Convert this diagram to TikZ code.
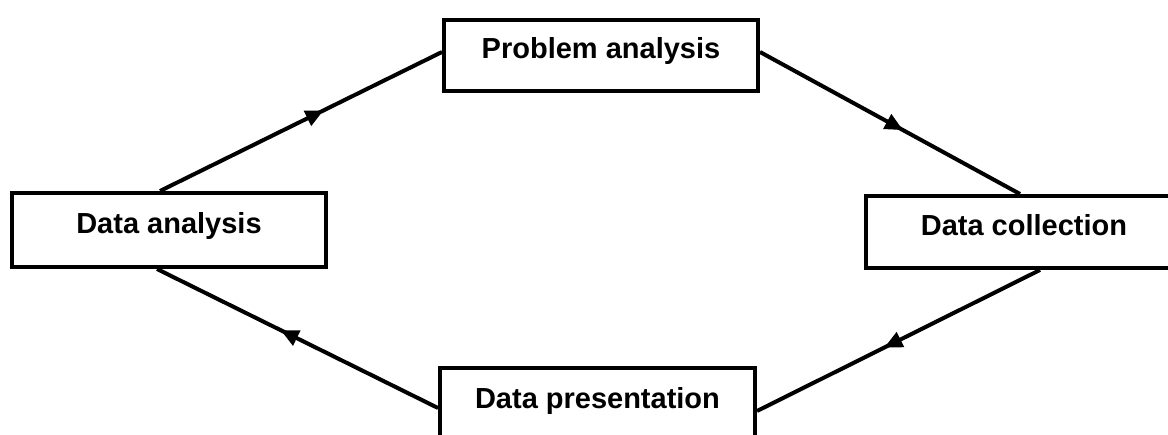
\documentclass[tikz,border=0pt]{standalone}
\usepackage{fontspec}
\setmainfont{Liberation Sans}
\usetikzlibrary{arrows.meta,decorations.markings}
\tikzset{
  stagebox/.style={draw=black, line width=4pt, fill=white, minimum height=72pt,
    text height=21pt, text depth=14pt, inner sep=0pt,
    font=\fontsize{29}{34}\selectfont\bfseries},
  flow/.style={draw=black, line width=4pt, postaction={decorate},
    decoration={markings, mark=at position #1 with {\arrow{Triangle[length=18pt,width=16pt]}}}}
}
\begin{document}
\begin{tikzpicture}[x=1pt,y=-1pt]
\useasboundingbox (0,0) rectangle (1168,435);
\clip (0,0) rectangle (1168,435);
\node[stagebox, minimum width=314pt, minimum height=71pt] (pa) at (601,55.5) {Problem analysis};
\node[stagebox, minimum width=314pt, minimum height=74pt] (da) at (169,230) {Data analysis};
\node[stagebox, minimum width=316pt, minimum height=72pt] (dc) at (1024,232) {Data collection};
\node[stagebox, minimum width=315pt, minimum height=74pt] (dp) at (597.5,405) {Data presentation};
\draw[flow=0.58] ([xshift=-9pt]da.north) -- ([yshift=3.5pt]pa.west);
\draw[flow=0.55] ([yshift=3.5pt]pa.east) -- ([xshift=-4pt]dc.north);
\draw[flow=0.55] ([xshift=16pt]dc.south) -- ([yshift=-6pt]dp.east);
\draw[flow=0.56] ([yshift=-3pt]dp.west) -- ([xshift=-12pt]da.south);
\end{tikzpicture}
\end{document}
